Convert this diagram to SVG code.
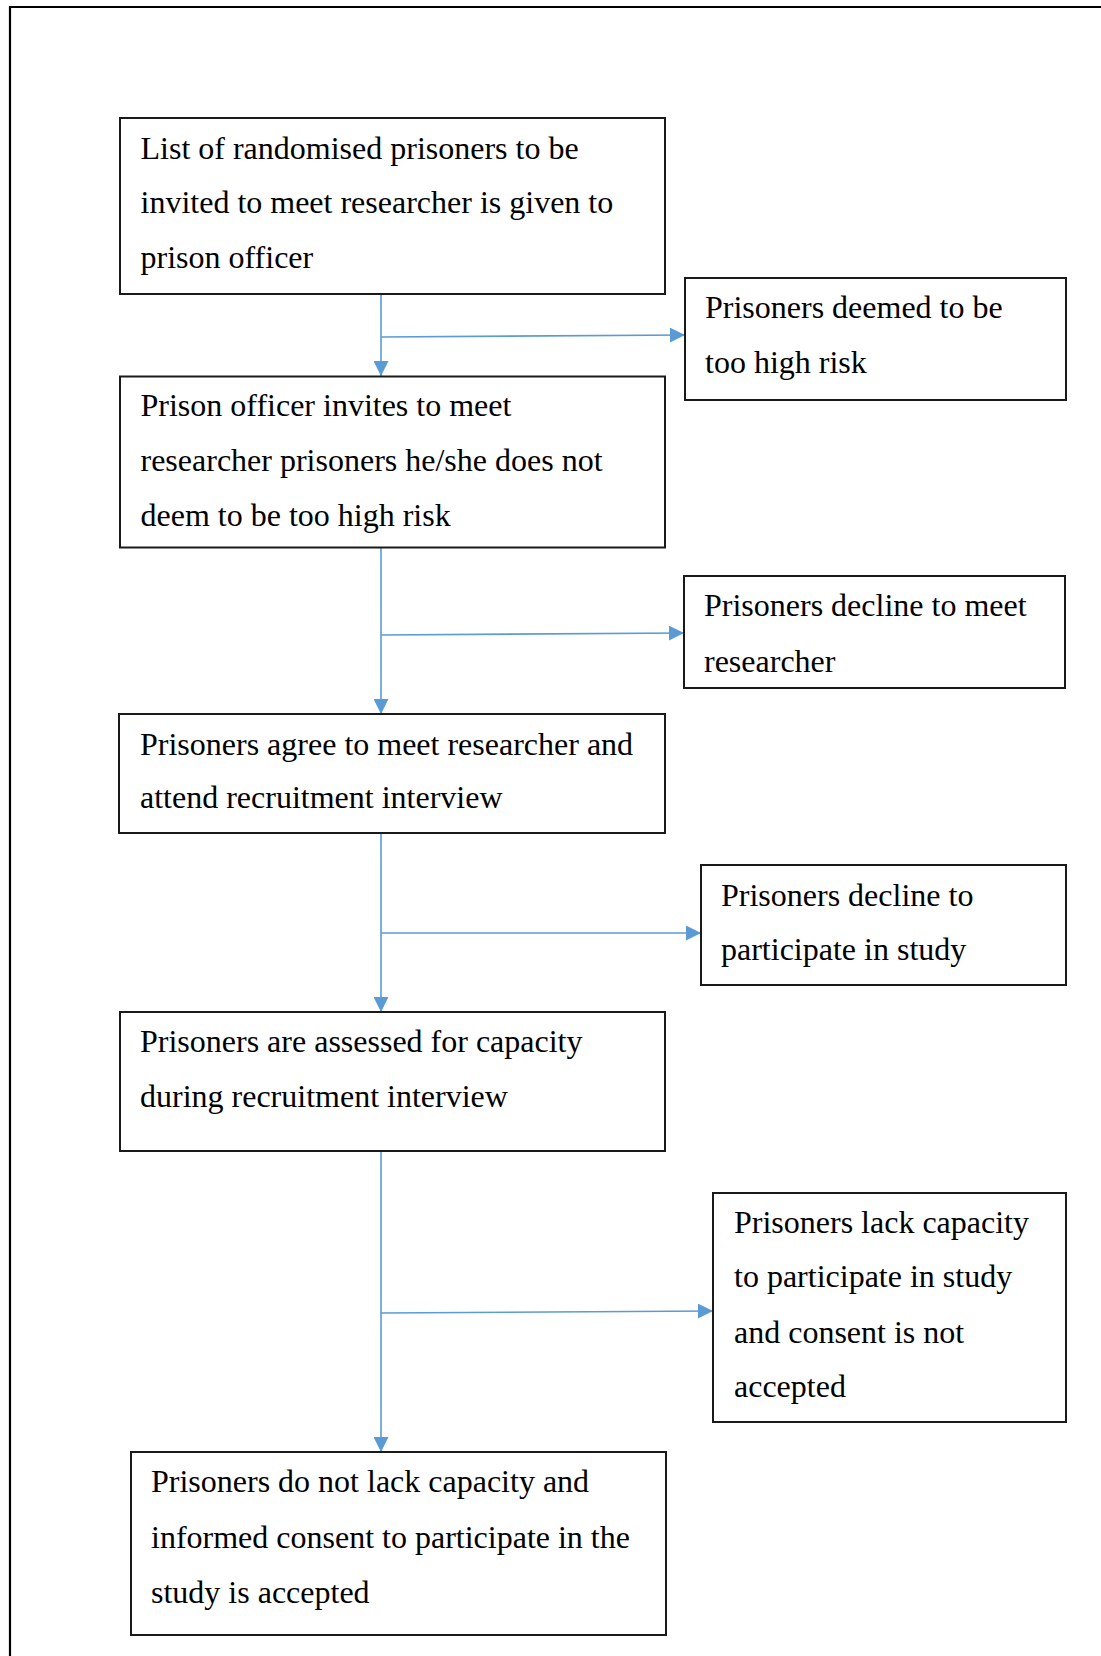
<svg xmlns="http://www.w3.org/2000/svg" width="1101" height="1656" viewBox="0 0 1101 1656">
  <defs>
    <style>
      .box { fill: #ffffff; stroke: #1a1a1a; stroke-width: 2; }
      .lbl { font-family: "Liberation Serif", "Times New Roman", serif; font-size: 32px; fill: #000000; }
      .flow { fill: none; stroke: #5b9bd5; stroke-width: 1.6; }
      .frame { fill: none; stroke: #000000; stroke-width: 2.2; }
    </style>
    <marker id="arrow" viewBox="0 0 15 15" refX="15" refY="7.5" markerWidth="15" markerHeight="15" markerUnits="userSpaceOnUse" orient="auto">
      <path d="M0,0 L15,7.5 L0,15 z" fill="#5b9bd5"/>
    </marker>
  </defs>

  <rect x="0" y="0" width="1101" height="1656" fill="#ffffff"/>

  <!-- page frame: top and left rules -->
  <path class="frame" d="M10,1656 V7 H1101"/>

  <!-- connectors -->
  <g id="connectors">
    <path class="flow" d="M381,294 V376" marker-end="url(#arrow)"/>
    <path class="flow" d="M381,337 L685,335" marker-end="url(#arrow)"/>

    <path class="flow" d="M381,548 V714" marker-end="url(#arrow)"/>
    <path class="flow" d="M381,635 L684,633" marker-end="url(#arrow)"/>

    <path class="flow" d="M381,833 V1012" marker-end="url(#arrow)"/>
    <path class="flow" d="M381,933 L701,933" marker-end="url(#arrow)"/>

    <path class="flow" d="M381,1151 V1452" marker-end="url(#arrow)"/>
    <path class="flow" d="M381,1313 L713,1311" marker-end="url(#arrow)"/>
  </g>

  <g id="node-list">
    <rect class="box" x="120" y="118" width="545" height="176"/>
    <text class="lbl" x="140.5" y="159">List of randomised prisoners to be</text>
    <text class="lbl" x="140.5" y="213">invited to meet researcher is given to</text>
    <text class="lbl" x="140.5" y="268">prison officer</text>
  </g>

  <g id="node-high-risk">
    <rect class="box" x="685" y="278" width="381" height="122"/>
    <text class="lbl" x="705" y="318">Prisoners deemed to be</text>
    <text class="lbl" x="705" y="373">too high risk</text>
  </g>

  <g id="node-invite">
    <rect class="box" x="120" y="376.5" width="545" height="171"/>
    <text class="lbl" x="140.5" y="416">Prison officer invites to meet</text>
    <text class="lbl" x="140.5" y="471">researcher prisoners he/she does not</text>
    <text class="lbl" x="140.5" y="526">deem to be too high risk</text>
  </g>

  <g id="node-decline-meet">
    <rect class="box" x="684" y="576" width="381" height="112"/>
    <text class="lbl" x="704" y="616">Prisoners decline to meet</text>
    <text class="lbl" x="704" y="672">researcher</text>
  </g>

  <g id="node-agree">
    <rect class="box" x="119" y="714" width="546" height="119"/>
    <text class="lbl" x="140" y="755">Prisoners agree to meet researcher and</text>
    <text class="lbl" x="140" y="808">attend recruitment interview</text>
  </g>

  <g id="node-decline-participate">
    <rect class="box" x="701" y="865" width="365" height="120"/>
    <text class="lbl" x="721" y="906">Prisoners decline to</text>
    <text class="lbl" x="721" y="960">participate in study</text>
  </g>

  <g id="node-assessed">
    <rect class="box" x="120" y="1012" width="545" height="139"/>
    <text class="lbl" x="140" y="1052">Prisoners are assessed for capacity</text>
    <text class="lbl" x="140" y="1107">during recruitment interview</text>
  </g>

  <g id="node-lack-capacity">
    <rect class="box" x="713" y="1193" width="353" height="229"/>
    <text class="lbl" x="734" y="1233">Prisoners lack capacity</text>
    <text class="lbl" x="734" y="1287">to participate in study</text>
    <text class="lbl" x="734" y="1343">and consent is not</text>
    <text class="lbl" x="734" y="1397">accepted</text>
  </g>

  <g id="node-consent">
    <rect class="box" x="131" y="1452" width="535" height="183"/>
    <text class="lbl" x="151" y="1492">Prisoners do not lack capacity and</text>
    <text class="lbl" x="151" y="1548">informed consent to participate in the</text>
    <text class="lbl" x="151" y="1603">study is accepted</text>
  </g>
</svg>
